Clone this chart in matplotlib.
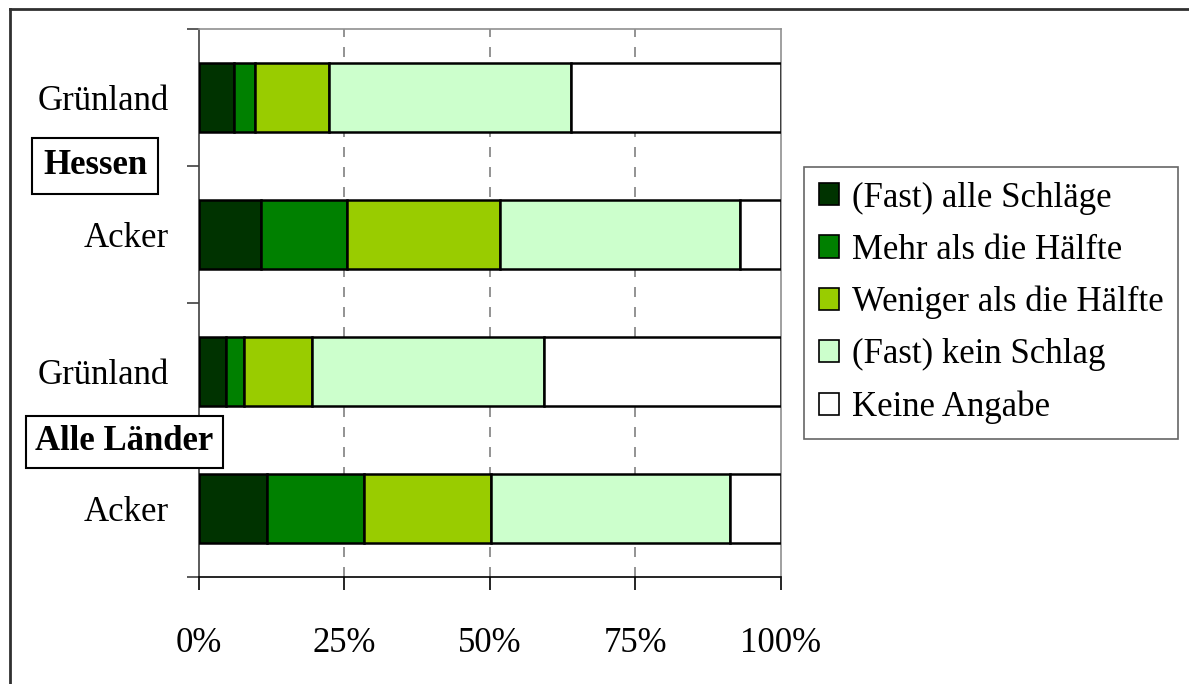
import matplotlib
matplotlib.use("Agg")
import matplotlib.pyplot as plt
from matplotlib.lines import Line2D
from matplotlib.patches import Patch
import numpy as np

plt.rcParams['font.family'] = ['Liberation Serif', 'DejaVu Serif']

# Rows from top to bottom
row_labels = ["Grünland", "Acker", "Grünland", "Acker"]
group_labels = ["Hessen", "Alle Länder"]

series_names = ["(Fast) alle Schläge", "Mehr als die Hälfte",
                "Weniger als die Hälfte", "(Fast) kein Schlag", "Keine Angabe"]
series_colors = ["#003300", "#008000", "#99CC00", "#CCFFCC", "#FFFFFF"]

fast_alle = [6.0, 10.7, 4.7, 11.7]
mehr_haelfte = [3.6, 14.7, 3.0, 16.7]
weniger_haelfte = [12.8, 26.4, 11.7, 21.8]
kein_schlag = [41.5, 41.2, 39.8, 41.1]
keine_angabe = [36.1, 7.0, 40.8, 8.7]

series_values = [fast_alle, mehr_haelfte, weniger_haelfte, kein_schlag, keine_angabe]

x_ticks = [0, 25, 50, 75, 100]
x_ticklabels = ["0%", "25%", "50%", "75%", "100%"]

W, H = 1189, 684
fig = plt.figure(figsize=(W / 100, H / 100), dpi=100)
ax = fig.add_axes([199 / W, 1 - 577 / H, 582 / W, 548 / H])

y = np.arange(len(row_labels))
left = np.zeros(len(row_labels))
for vals, col in zip(series_values, series_colors):
    ax.barh(y, vals, left=left, height=0.5, color=col, edgecolor="black",
            linewidth=1.8, zorder=3)
    left += np.array(vals)

ax.set_xlim(0, 100)
ax.set_ylim(3.5, -0.5)

# dashed vertical gridlines
for xv in x_ticks[1:-1]:
    ax.axvline(xv, color="#808080", linestyle=(0, (6, 6)), linewidth=1.2, zorder=1)

# spines
for s in ["top", "right"]:
    ax.spines[s].set_color("#909090")
    ax.spines[s].set_linewidth(1.2)
ax.spines["left"].set_color("#404040")
ax.spines["left"].set_linewidth(1.2)
ax.spines["bottom"].set_color("black")
ax.spines["bottom"].set_linewidth(1.2)

# x ticks
ax.set_xticks(x_ticks)
ax.set_xticklabels(x_ticklabels, fontsize=25)
ax.tick_params(axis="x", direction="out", length=9, width=1.2, color="black", pad=27)

# y ticks at category boundaries, labels at centres
ax.set_yticks(np.arange(-0.5, len(row_labels), 1.0))
ax.set_yticklabels([])
ax.tick_params(axis="y", which="major", direction="out", length=9, width=1.2, color="#404040")
ax.set_yticks(y, minor=True)
ax.set_yticklabels(row_labels, minor=True, fontsize=25)
ax.tick_params(axis="y", which="minor", length=0, pad=22)

# group labels in boxes
fig.text(95 / W, 1 - 166 / H, group_labels[0], fontsize=25, fontweight="bold",
         ha="center", va="center",
         bbox=dict(boxstyle="square,pad=0.32", facecolor="white", edgecolor="black", linewidth=1.5),
         zorder=10)
fig.text(124 / W, 1 - 442 / H, group_labels[1], fontsize=25, fontweight="bold",
         ha="center", va="center",
         bbox=dict(boxstyle="square,pad=0.27", facecolor="white", edgecolor="black", linewidth=1.5),
         zorder=10)

# legend
handles = [Patch(facecolor=c, edgecolor="black", linewidth=1.2) for c in series_colors]
leg = fig.legend(handles, series_names, loc="upper left",
                 bbox_to_anchor=(804 / W, 1 - 167 / H), fontsize=25,
                 frameon=True, fancybox=False, edgecolor="#404040",
                 handlelength=0.6, handleheight=0.6, handletextpad=0.36,
                 labelspacing=0.55, borderpad=0.42, borderaxespad=0)
leg.get_frame().set_linewidth(1.2)

# outer chart frame (top and left edges)
fig.add_artist(Line2D([10 / W, 10 / W], [0, 1 - 9 / H], transform=fig.transFigure,
                      color="#303030", linewidth=2))
fig.add_artist(Line2D([10 / W, 1], [1 - 9 / H, 1 - 9 / H], transform=fig.transFigure,
                      color="#303030", linewidth=2))

fig.savefig("out.png", dpi=100)
